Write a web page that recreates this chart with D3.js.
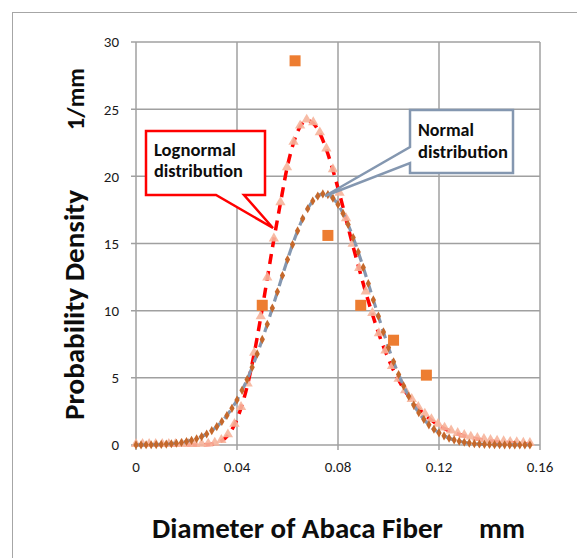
<!DOCTYPE html>
<html>
<head>
<meta charset="utf-8">
<script src="https://cdn.jsdelivr.net/npm/d3@7"></script>
<style>
	body { margin: 0; background: white; }
	text { font-family: Calibri, Carlito, "Open Sans", sans-serif; }
	.tick { font-family: Calibri, Carlito, Lato, sans-serif; }
</style>
</head>
<body>
<div id="chart"></div>
<script>
let width = 577;
let height = 558;

let margin = {
	top: 42,
	right: 37,
	bottom: 113,
	left: 136
};

// measured histogram (bin centres, mm) and density (1/mm)
let histX = [0.050, 0.063, 0.076, 0.089, 0.102, 0.115];
let histY = [10.4, 28.6, 15.6, 10.4, 7.8, 5.2];

// lognormal fit, sampled every 0.0026 mm from 0 to 0.156
let lognormalStep = 0.0026;
let lognormalY = [0, 0, 0, 0, 0, 0, 0, 0, 0, 0,
	0.01, 0.03, 0.10, 0.30, 0.72, 1.50, 2.75, 4.5, 6.8, 9.5,
	12.4, 15.3, 18.0, 20.6, 22.5, 23.7, 24.15, 23.95, 23.2, 22.0,
	20.45, 18.7, 16.8, 14.9, 13.1, 11.35, 9.75, 8.25, 6.95, 5.8,
	4.85, 4.0, 3.35, 2.75, 2.25, 1.85, 1.5, 1.22, 1.0, 0.82,
	0.67, 0.55, 0.45, 0.37, 0.3, 0.24, 0.2, 0.16, 0.13, 0.1, 0.08];

// normal fit, sampled every 0.002 mm from 0 to 0.156
let normalStep = 0.002;
let normalY = [0.006, 0.009, 0.014, 0.021, 0.031, 0.046, 0.066, 0.094, 0.133, 0.185,
	0.256, 0.348, 0.469, 0.624, 0.822, 1.07, 1.37, 1.75, 2.2, 2.73,
	3.35, 4.07, 4.87, 5.78, 6.78, 7.86, 8.99, 10.19, 11.4, 12.62,
	13.8, 14.92, 15.94, 16.85, 17.59, 18.16, 18.53, 18.69, 18.64, 18.37,
	17.9, 17.24, 16.41, 15.45, 14.37, 13.22, 12.02, 10.8, 9.59, 8.42,
	7.25, 6.2, 5.25, 4.4, 3.63, 2.97, 2.4, 1.91, 1.5, 1.17,
	0.9, 0.68, 0.51, 0.38, 0.28, 0.2, 0.14, 0.1, 0.07, 0.05,
	0.035, 0.024, 0.016, 0.011, 0.007, 0.005, 0.003, 0.002, 0.001];

let xTicks = [0, 0.04, 0.08, 0.12, 0.16];
let yTicks = [0, 5, 10, 15, 20, 25, 30];

let lognormalData = lognormalY.map((v, i) => ({x: i * lognormalStep, y: v}));
let normalData = normalY.map((v, i) => ({x: i * normalStep, y: v}));
let histData = histX.map((v, i) => ({x: v, y: histY[i]}));

let svg = d3.select("#chart")
			.append("svg")
			.attr("width", width)
			.attr("height", height);

svg.append("rect")
	.attr("x", 0)
	.attr("y", 0)
	.attr("width", width)
	.attr("height", height)
	.attr("fill", "white");

// chart area border
svg.append("rect")
	.attr("x", 12.5)
	.attr("y", 12.5)
	.attr("width", 700)
	.attr("height", 700)
	.attr("fill", "none")
	.attr("stroke", "#a6a6a6")
	.attr("stroke-width", 1);

let xScale = d3.scaleLinear()
				.domain([0, 0.16])
				.range([margin.left, width - margin.right]);

let yScale = d3.scaleLinear()
				.domain([0, 30])
				.range([height - margin.bottom, margin.top]);

let gridColor = "#a0a0a0";

// size a bold label so it spans the width it has in the original
function boldLabel(x, y, str, target, transform){
	let t = svg.append("text")
				.attr("x", x)
				.attr("y", y)
				.attr("font-size", 20)
				.attr("font-weight", "bold")
				.attr("fill", "#0d0d0d")
				.text(str);
	if (transform) t.attr("transform", transform);
	let w = t.node().getComputedTextLength();
	if (w > 0) t.attr("font-size", 20 * target / w);
	return t;
}

// gridlines
svg.append("g")
	.selectAll("line")
	.data(yTicks)
	.enter()
	.append("line")
	.attr("x1", margin.left - 5)
	.attr("x2", xScale(0.16))
	.attr("y1", d => yScale(d))
	.attr("y2", d => yScale(d))
	.attr("stroke", gridColor)
	.attr("stroke-width", 1.5);

svg.append("g")
	.selectAll("line")
	.data(xTicks)
	.enter()
	.append("line")
	.attr("x1", d => xScale(d))
	.attr("x2", d => xScale(d))
	.attr("y1", yScale(30))
	.attr("y2", yScale(0) + 5)
	.attr("stroke", gridColor)
	.attr("stroke-width", 1.5);

// tick labels
svg.append("g")
	.selectAll("text")
	.data(yTicks)
	.enter()
	.append("text")
	.attr("class", "tick")
	.attr("x", margin.left - 17)
	.attr("y", d => yScale(d))
	.attr("dy", "0.36em")
	.attr("text-anchor", "end")
	.attr("font-size", 15)
	.attr("fill", "#1a1a1a")
	.text(d => d);

svg.append("g")
	.selectAll("text")
	.data(xTicks)
	.enter()
	.append("text")
	.attr("class", "tick")
	.attr("x", d => xScale(d))
	.attr("y", yScale(0) + 27)
	.attr("text-anchor", "middle")
	.attr("font-size", 15)
	.attr("fill", "#1a1a1a")
	.text(d => d === 0 ? "0" : d3.format(".2f")(d));

// axis titles
boldLabel(152, 538, "Diameter of Abaca Fiber", 291);
boldLabel(479, 538, "mm", 46);
boldLabel(0, 0, "Probability Density", 230, "translate(84,420) rotate(-90)");
boldLabel(0, 0, "1/mm", 62, "translate(84,130) rotate(-90)");

let line = d3.line()
			.x(d => xScale(d.x))
			.y(d => yScale(d.y))
			.curve(d3.curveMonotoneX);

// lognormal: red dashed line + salmon triangles
svg.append("path")
	.datum(lognormalData)
	.attr("d", line)
	.attr("fill", "none")
	.attr("stroke", "#ff0000")
	.attr("stroke-width", 3.5)
	.attr("stroke-dasharray", "10,7");

svg.append("g")
	.selectAll("path")
	.data(lognormalData)
	.enter()
	.append("path")
	.attr("d", d3.symbol().type(d3.symbolTriangle).size(46))
	.attr("transform", d => "translate(" + xScale(d.x) + "," + (yScale(d.y) - 1) + ")")
	.attr("fill", "#f6b49b")
	.attr("opacity", 0.9);

// normal: blue-grey dashed line + brown diamonds
svg.append("path")
	.datum(normalData)
	.attr("d", line)
	.attr("fill", "none")
	.attr("stroke", "#8497b0")
	.attr("stroke-width", 3.2)
	.attr("stroke-dasharray", "10,6");

svg.append("g")
	.selectAll("path")
	.data(normalData)
	.enter()
	.append("path")
	.attr("d", d3.symbol().type(d3.symbolDiamond).size(24))
	.attr("transform", d => "translate(" + xScale(d.x) + "," + yScale(d.y) + ")")
	.attr("fill", "#c5682b");

// histogram squares
svg.append("g")
	.selectAll("rect")
	.data(histData)
	.enter()
	.append("rect")
	.attr("x", d => xScale(d.x) - 5.5)
	.attr("y", d => yScale(d.y) - 5.5)
	.attr("width", 11)
	.attr("height", 11)
	.attr("fill", "#ed7d31");

// callouts
svg.append("path")
	.attr("d", "M146,131 H265 V195 H244 L273,228 L216,195 H146 Z")
	.attr("fill", "white")
	.attr("stroke", "#ff0000")
	.attr("stroke-width", 2.5);

boldLabel(154, 156, "Lognormal", 82);
boldLabel(154, 177, "distribution", 89);

svg.append("path")
	.attr("d", "M410,110 H513 V173 H410 V163 L325,196 L410,147 Z")
	.attr("fill", "white")
	.attr("stroke", "#8497b0")
	.attr("stroke-width", 2.5);

boldLabel(418, 136, "Normal", 56);
boldLabel(418, 158, "distribution", 90);
</script>
</body>
</html>
